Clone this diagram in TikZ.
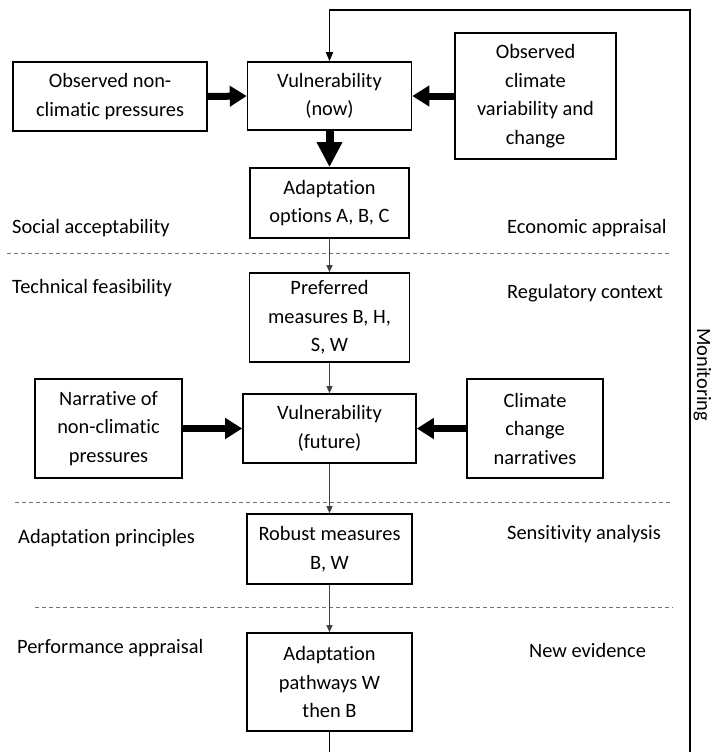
\documentclass[tikz,border=0pt]{standalone}
\usepackage{fontspec}
\setmainfont{Carlito}[Ligatures=NoCommon]
\usetikzlibrary{arrows.meta}

\newcommand{\diagfont}{\fontsize{20.4}{28.5}\selectfont}

\tikzset{
  box/.style={draw, line width=1.6pt, inner sep=0pt, align=center, font=\diagfont},
  lbl/.style={inner sep=0pt, anchor=base west, font=\diagfont},
  thinarrow/.style={-{Triangle[length=7pt,width=6pt]}, line width=0.9pt, draw=black!75, fill=black!75},
  fatarrow/.style={-{Triangle[length=17pt,width=20pt]}, line width=7pt},
  downarrow/.style={-{Triangle[length=25pt,width=24pt]}, line width=8pt},
  loopline/.style={line width=1.6pt},
  separator/.style={draw=black!55, dash pattern=on 4pt off 3pt, line width=1pt}
}

\begin{document}
\begin{tikzpicture}[x=1pt, y=-1pt]
  \useasboundingbox[fill=white] (0,0) rectangle (712,752);

  % observed situation
  \node[box, minimum width=194pt, minimum height=69pt] (onc) at (110,96.5) {Observed non-\\climatic pressures};
  \node[box, minimum width=164pt, minimum height=68pt] (vnow) at (329.5,96) {Vulnerability\\(now)};
  \node[box, minimum width=161pt, minimum height=126pt] (ocv) at (535.5,96) {Observed\\climate\\variability and\\change};

  % option screening
  \node[box, minimum width=159pt, minimum height=70pt] (aopt) at (329.5,203) {Adaptation\\options A, B, C};
  \node[box, minimum width=160pt, minimum height=89pt] (pref) at (329.5,317.5) {Preferred\\measures B, H,\\S, W};

  % future situation
  \node[box, minimum width=147pt, minimum height=99pt] (narr) at (108.5,428.5) {Narrative of\\non-climatic\\pressures};
  \node[box, minimum width=173pt, minimum height=69pt] (vfut) at (329.5,428.5) {Vulnerability\\(future)};
  \node[box, minimum width=136pt, minimum height=99pt] (ccn) at (535,428.5) {Climate\\change\\narratives};

  \node[box, minimum width=165pt, minimum height=70pt] (rob) at (329.5,549) {Robust measures\\B, W};
  \node[box, minimum width=165pt, minimum height=98pt] (path) at (329.5,682) {Adaptation\\pathways W\\then B};

  % side criteria
  \node[lbl] (soc) at (12,233) {Social acceptability};
  \node[lbl] (eco) at (507,233) {Economic appraisal};
  \node[lbl] (tec) at (12,293) {Technical feasibility};
  \node[lbl] (reg) at (507,298) {Regulatory context};
  \node[lbl] (apr) at (18,543) {Adaptation principles};
  \node[lbl] (sen) at (507,539) {Sensitivity analysis};
  \node[lbl] (per) at (17,653) {Performance appraisal};
  \node[lbl] (nev) at (529,657) {New evidence};

  % monitoring loop label, reading downwards beside the loop
  \node[inner sep=0pt, anchor=base west, rotate=-90, font=\diagfont] (mon) at (697,328) {Monitoring};

  % stage separators
  \draw[separator] (7,253) -- (672,253);
  \draw[separator] (15,502) -- (673,502);
  \draw[separator] (35,607) -- (673,607);

  % driving pressures
  \draw[fatarrow] (onc.east) -- (vnow.west);
  \draw[fatarrow] (ocv.west) -- (vnow.east);
  \draw[downarrow] (vnow.south) -- (aopt.north);
  \draw[fatarrow] (narr.east) -- (vfut.west);
  \draw[fatarrow] (ccn.west) -- (vfut.east);

  % main sequence
  \draw[thinarrow] (aopt.south) -- (pref.north);
  \draw[thinarrow] (pref.south) -- (vfut.north);
  \draw[thinarrow] (vfut.south) -- (rob.north);
  \draw[thinarrow] (rob.south) -- (path.north);

  % monitoring feedback loop
  \coordinate (bot) at (329.5,752);
  \coordinate (botR) at (690,752);
  \coordinate (topR) at (690,10);
  \coordinate (topL) at (329.5,10);
  \draw[loopline] (path.south) -- (bot);
  \draw[loopline, -{Triangle[length=9pt,width=7pt]}] (botR) -- (topR) -- (topL) -- (vnow.north);
\end{tikzpicture}
\end{document}
